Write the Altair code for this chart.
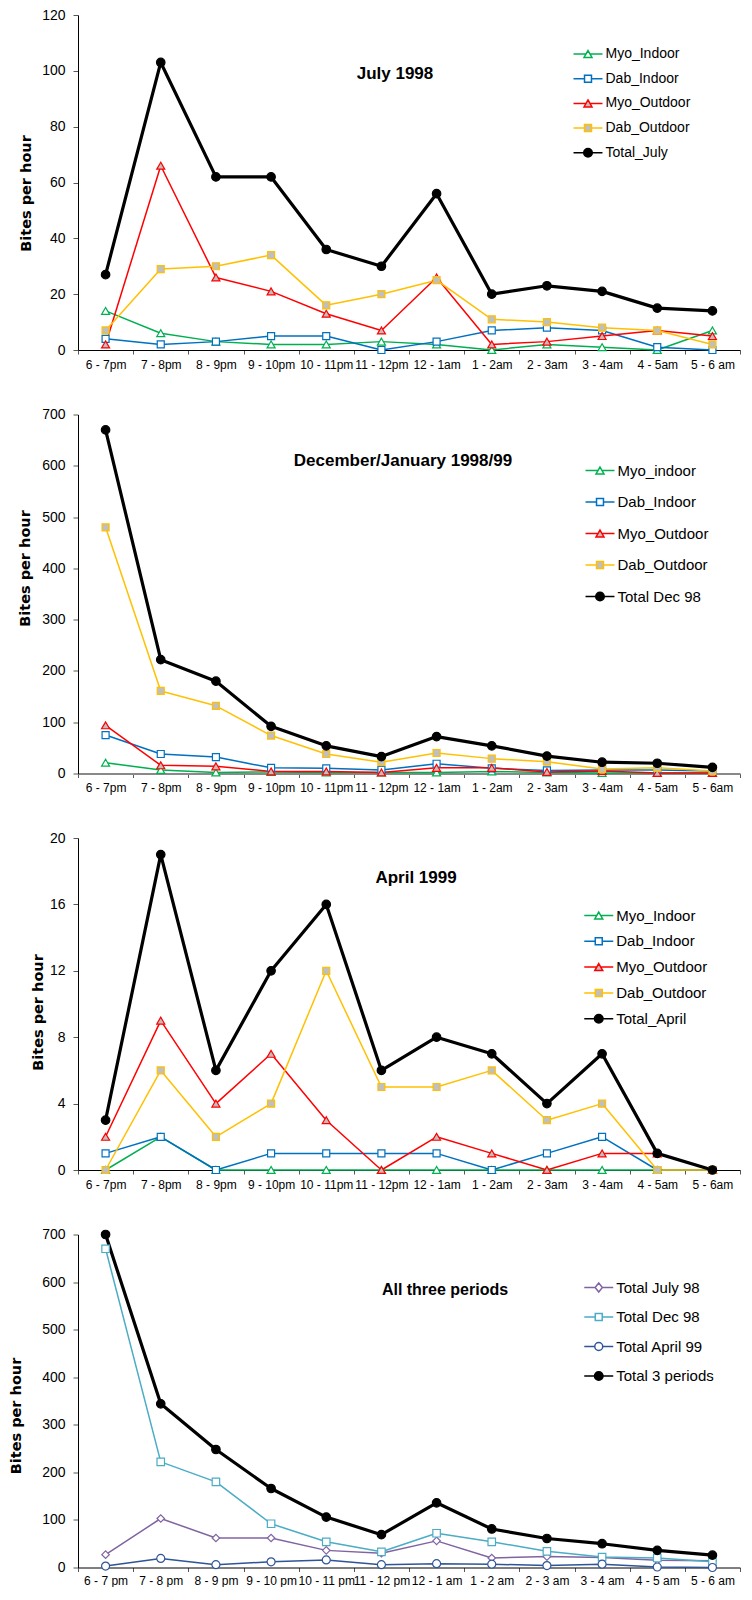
import altair as alt
import pandas as pd

# ---------------- data ----------------
TIMES_JUL = ["6 - 7pm", "7 - 8pm", "8 - 9pm", "9 - 10pm", "10 - 11pm", "11 - 12pm",
             "12 - 1am", "1 - 2am", "2 - 3am", "3 - 4am", "4 - 5am", "5 - 6 am"]
TIMES_DEC = ["6 - 7pm", "7 - 8pm", "8 - 9pm", "9 - 10pm", "10 - 11pm", "11 - 12pm",
             "12 - 1am", "1 - 2am", "2 - 3am", "3 - 4am", "4 - 5am", "5 - 6am"]
TIMES_APR = TIMES_DEC
TIMES_ALL = ["6 - 7 pm", "7 - 8 pm", "8 - 9 pm", "9 - 10 pm", "10 - 11 pm", "11 - 12 pm",
             "12 - 1 am", "1 - 2 am", "2 - 3 am", "3 - 4 am", "4 - 5 am", "5 - 6 am"]

TITLES = ["July 1998", "December/January 1998/99", "April 1999", "All three periods"]

# July 1998
JUL_SERIES = ["Myo_Indoor", "Dab_Indoor", "Myo_Outdoor", "Dab_Outdoor", "Total_July"]
JUL_MYO_IN = [14, 6, 3, 2, 2, 3, 2, 0, 2, 1, 0, 7]
JUL_DAB_IN = [4, 2, 3, 5, 5, 0, 3, 7, 8, 7, 1, 0]
JUL_MYO_OUT = [2, 66, 26, 21, 13, 7, 26, 2, 3, 5, 7, 5]
JUL_DAB_OUT = [7, 29, 30, 34, 16, 20, 25, 11, 10, 8, 7, 2]
JUL_TOTAL = [27, 103, 62, 62, 36, 30, 56, 20, 23, 21, 15, 14]

# December/January 1998/99
DEC_SERIES = ["Myo_indoor", "Dab_Indoor", "Myo_Outdoor", "Dab_Outdoor", "Total Dec 98"]
DEC_MYO_IN = [21, 7, 2, 3, 2, 2, 2, 4, 2, 1, 1, 1]
DEC_DAB_IN = [75, 38, 32, 11, 10, 7, 19, 10, 6, 7, 7, 5]
DEC_MYO_OUT = [94, 16, 14, 4, 4, 2, 11, 11, 3, 5, 1, 1]
DEC_DAB_OUT = [480, 161, 132, 74, 38, 22, 40, 29, 23, 9, 11, 5]
DEC_TOTAL = [670, 222, 180, 92, 54, 33, 72, 54, 34, 22, 20, 12]

# April 1999
APR_SERIES = ["Myo_Indoor", "Dab_Indoor", "Myo_Outdoor", "Dab_Outdoor", "Total_April"]
APR_MYO_IN = [0, 2, 0, 0, 0, 0, 0, 0, 0, 0, 0, 0]
APR_DAB_IN = [1, 2, 0, 1, 1, 1, 1, 0, 1, 2, 0, 0]
APR_MYO_OUT = [2, 9, 4, 7, 3, 0, 2, 1, 0, 1, 1, 0]
APR_DAB_OUT = [0, 6, 2, 4, 12, 5, 5, 6, 3, 4, 0, 0]
APR_TOTAL = [3, 19, 6, 12, 16, 6, 8, 7, 4, 7, 1, 0]

# All three periods
ALL_SERIES = ["Total July 98", "Total Dec 98", "Total April 99", "Total 3 periods"]
ALL_JUL = [27, 103, 62, 62, 36, 30, 56, 20, 23, 21, 15, 14]
ALL_DEC = [670, 222, 180, 92, 54, 33, 72, 54, 34, 22, 20, 12]
ALL_APR = [3, 19, 6, 12, 16, 6, 8, 7, 4, 7, 1, 0]
ALL_TOTAL = [700, 344, 248, 166, 106, 69, 136, 81, 61, 50, 36, 26]

# ---------------- styles ----------------
LAB_FONT = "Liberation Sans"
GRAY = "#BFBFBF"

def seg(h):
    return f"M-2,0H-{h}M{h},0H2"

TRI = seg(0.275) + "M0,-0.48L0.55,0.48L-0.55,0.48Z"
SQR = seg(0.48) + "M-0.48,-0.48H0.48V0.48H-0.48Z"
CIR_BIG = seg(0.59) + "M0.59,0A0.59,0.59 0 1,1 -0.59,0A0.59,0.59 0 1,1 0.59,0Z"
CIR = seg(0.55) + "M0.55,0A0.55,0.55 0 1,1 -0.55,0A0.55,0.55 0 1,1 0.55,0Z"
DIA = seg(0.5) + "M0,-0.62L0.5,0L0,0.62L-0.5,0Z"

def st(stroke, fill, shape, size, lw, path):
    return dict(stroke=stroke, fill=fill, shape=shape, size=size, lw=lw, path=path)

S_MYO_IN = st("#00B050", "white", "triangle-up", 64, 1.5, TRI)
S_DAB_IN = st("#0070C0", "white", "square", 49, 1.5, SQR)
S_MYO_OUT = st("#FF0000", GRAY, "triangle-up", 64, 1.5, TRI)
S_DAB_OUT = st("#FFC000", GRAY, "square", 49, 1.5, SQR)
S_TOTAL = st("black", "black", "circle", 72, 3.2, CIR_BIG)
S_TJUL = st("#8064A2", "white", "diamond", 56, 1.5, DIA)
S_TDEC = st("#4BACC6", "white", "square", 56, 1.5, SQR)
S_TAPR = st("#2F5597", "white", "circle", 64, 1.5, CIR)

PANEL_W = 662


def panel(times, names, values, styles, ymax, ystep, width, height, title, tpos,
          leg, ytpos, dom_color="black", dom_width=1, xpad=5):
    rows = []
    for name, vals, sty in zip(names, values, styles):
        for i, (t, v) in enumerate(zip(times, vals)):
            rows.append(dict(time=t, series=name, value=v, idx=i,
                             stroke=sty["stroke"], fill=sty["fill"],
                             shape=sty["shape"], size=sty["size"], lw=sty["lw"]))
    df = pd.DataFrame(rows)

    x = alt.X("time:N", sort=times,
              scale=alt.Scale(type="band", paddingInner=0, paddingOuter=0),
              axis=alt.Axis(title=None, labelAngle=0, labelFont=LAB_FONT, labelFontSize=12,
                            labelColor="black", labelPadding=xpad, labelOverlap=False,
                            tickBand="extent", ticks=True, tickSize=4, tickColor="#595959",
                            domainColor=dom_color, domainWidth=dom_width, grid=False))
    y = alt.Y("value:Q",
              scale=alt.Scale(domain=[0, ymax], nice=False, zero=True),
              axis=alt.Axis(title="Bites per hour", values=list(range(0, ymax + 1, ystep)),
                            titleFont="DejaVu Sans", titleFontSize=14.5, titleFontWeight="bold",
                            titleColor="black", titleAngle=270, titleBaseline="middle",
                            titleAlign="center", titleX=ytpos[0], titleY=ytpos[1],
                            labelFont=LAB_FONT, labelFontSize=14, labelColor="black",
                            labelPadding=8, tickSize=5, tickColor="#595959",
                            domainColor="black", grid=False))

    base = alt.Chart(df)
    lines = base.mark_line(strokeJoin="round").encode(
        x=x, y=y,
        detail="series:N",
        order=alt.Order("idx:Q"),
        stroke=alt.Stroke("stroke:N", scale=None),
        strokeWidth=alt.StrokeWidth("lw:Q", scale=None),
    )
    points = base.mark_point(filled=True, opacity=1, strokeWidth=1.2).encode(
        x=x, y=y,
        shape=alt.Shape("shape:N", scale=None),
        fill=alt.Fill("fill:N", scale=None),
        stroke=alt.Stroke("stroke:N", scale=None),
        size=alt.Size("size:Q", scale=None),
    )
    L = alt.Legend(title=None, orient="none", legendX=leg[0], legendY=leg[1],
                   symbolSize=210, labelFont=LAB_FONT, labelFontSize=leg[2],
                   labelColor="black", rowPadding=leg[3], labelOffset=9.5,
                   padding=0, symbolOpacity=1)
    legend_layer = base.transform_filter("false").mark_point(filled=True, opacity=1).encode(
        shape=alt.Shape("series:N", scale=alt.Scale(domain=names, range=[s["path"] for s in styles]), legend=L),
        stroke=alt.Stroke("series:N", scale=alt.Scale(domain=names, range=[s["stroke"] for s in styles]), legend=L),
        fill=alt.Fill("series:N", scale=alt.Scale(domain=names, range=[s["fill"] for s in styles]), legend=L),
        strokeWidth=alt.StrokeWidth("series:N", scale=alt.Scale(domain=names, range=[s["lw"] for s in styles]), legend=L),
    )
    txt = alt.Chart(pd.DataFrame({"t": [title]})).mark_text(
        font=LAB_FONT, fontSize=tpos[2], fontWeight="bold", color="black",
        align="center", baseline="middle"
    ).encode(x=alt.value(tpos[0]), y=alt.value(tpos[1]), text="t:N")

    return alt.layer(lines, points, legend_layer, txt).properties(width=width, height=height)


p1 = panel(TIMES_JUL, JUL_SERIES,
           [JUL_MYO_IN, JUL_DAB_IN, JUL_MYO_OUT, JUL_DAB_OUT, JUL_TOTAL],
           [S_MYO_IN, S_DAB_IN, S_MYO_OUT, S_DAB_OUT, S_TOTAL],
           120, 20, PANEL_W, 335, TITLES[0], (317, 59, 17),
           (502, 31, 14, 9.7), (-51.5, 178))
p2 = panel(TIMES_DEC, DEC_SERIES,
           [DEC_MYO_IN, DEC_DAB_IN, DEC_MYO_OUT, DEC_DAB_OUT, DEC_TOTAL],
           [S_MYO_IN, S_DAB_IN, S_MYO_OUT, S_DAB_OUT, S_TOTAL],
           700, 100, PANEL_W, 359, TITLES[1], (325, 46, 17),
           (514, 48, 15, 15.5), (-53, 153.5), dom_color="#898989", dom_width=2)
p3 = panel(TIMES_APR, APR_SERIES,
           [APR_MYO_IN, APR_DAB_IN, APR_MYO_OUT, APR_DAB_OUT, APR_TOTAL],
           [S_MYO_IN, S_DAB_IN, S_MYO_OUT, S_DAB_OUT, S_TOTAL],
           20, 4, PANEL_W, 332, TITLES[2], (338, 40, 17),
           (512.75, 69.5, 15, 9.8), (-39.5, 174))
p4 = panel(TIMES_ALL, ALL_SERIES,
           [ALL_JUL, ALL_DEC, ALL_APR, ALL_TOTAL],
           [S_TJUL, S_TDEC, S_TAPR, S_TOTAL],
           700, 100, PANEL_W, 333, TITLES[3], (367, 55, 16),
           (512.75, 45, 15, 13.5), (-62, 181), xpad=4)

chart = alt.vconcat(p1, p2, p3, p4, spacing=37.5).resolve_scale(
    x="independent", y="independent",
    shape="independent", stroke="independent", fill="independent",
    strokeWidth="independent",
).resolve_legend(
    shape="independent", stroke="independent", fill="independent",
    strokeWidth="independent",
).properties(
    padding={"left": 0, "top": 0, "right": 0, "bottom": 0},
    background="white",
).configure_view(stroke=None)

chart.save("out.html", embed_options={"renderer": "svg", "actions": False})
